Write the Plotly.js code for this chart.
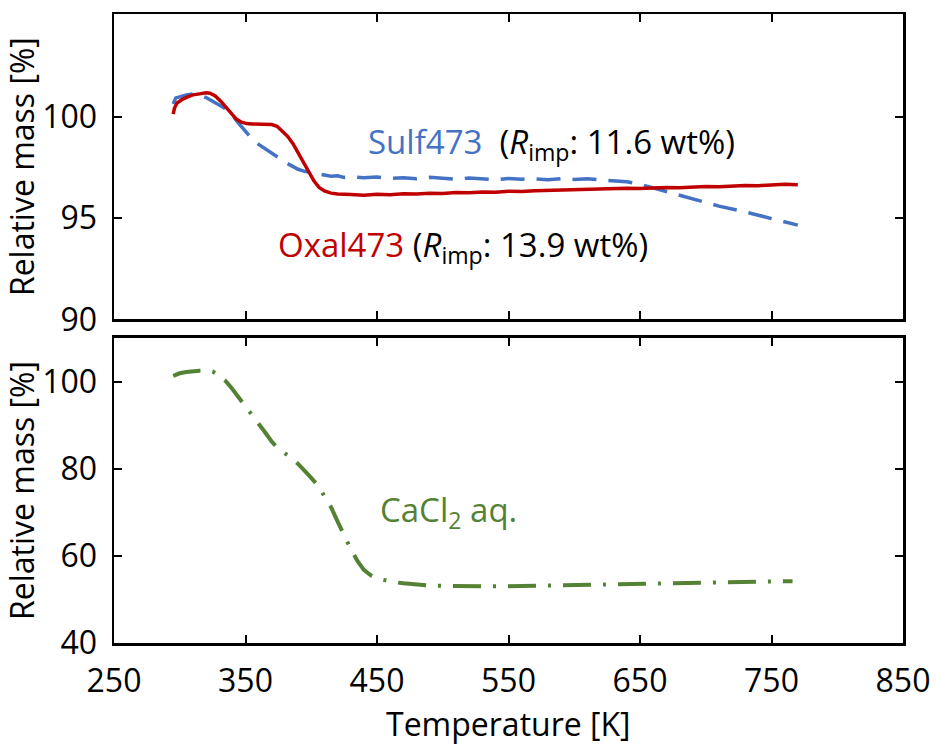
<!DOCTYPE html>
<html>
<head>
<meta charset="utf-8">
<script src="https://cdn.plot.ly/plotly-3.0.1.min.js"></script>
<style>
  html, body { margin: 0; padding: 0; background: #fff; }
  #chart { width: 936px; height: 747px; }
</style>
</head>
<body>
<div id="chart"></div>
<script>
// Thermogravimetric curves: relative mass vs temperature

// Sulf473 (upper panel, dashed blue)
const sulfT = [295, 297, 300, 305, 310, 315, 320, 325, 330, 335, 340, 345, 350, 355, 360, 365, 370, 375, 380, 385,
  390, 395, 400, 405, 410, 415, 420, 425, 430, 440, 450, 460, 470, 480, 490, 500, 510, 520, 530, 540,
  550, 560, 570, 580, 590, 600, 610, 620, 630, 640, 650, 660, 670, 680, 690, 700, 710, 720, 730, 740,
  750, 760, 770];
const sulfM = [100.65, 100.95, 101.0, 101.1, 101.15, 101.1, 100.97, 100.8, 100.6, 100.4, 100.1, 99.68, 99.3, 98.92, 98.65, 98.45, 98.22, 98.0, 97.77, 97.58,
  97.42, 97.32, 97.25, 97.2, 97.12, 97.08, 97.1, 97.02, 97.06, 97.0, 97.04, 96.97, 97.0, 96.95, 97.02, 96.97, 96.93, 96.99, 96.95, 96.9,
  96.97, 96.93, 96.95, 96.9, 96.96, 96.92, 96.95, 96.9, 96.88, 96.8, 96.68, 96.5, 96.3, 96.14, 95.95, 95.78, 95.6, 95.46, 95.32, 95.15,
  94.98, 94.82, 94.66];

// Oxal473 (upper panel, solid red)
const oxalT = [295, 296, 298, 302, 306, 310, 315, 320, 323, 327, 331, 335, 339, 343, 347, 351, 355, 360, 365, 370,
  374, 378, 382, 386, 390, 394, 398, 402, 406, 410, 415, 420, 430, 440, 450, 460, 470, 480, 490, 500,
  510, 520, 530, 540, 550, 560, 570, 580, 590, 600, 610, 620, 630, 640, 650, 660, 670, 680, 690, 700,
  710, 720, 730, 740, 750, 760, 770];
const oxalM = [100.15, 100.45, 100.7, 100.88, 101.0, 101.1, 101.15, 101.2, 101.18, 101.05, 100.8, 100.5, 100.2, 99.9, 99.75, 99.68, 99.66, 99.64, 99.65, 99.63,
  99.55, 99.3, 99.05, 98.7, 98.25, 97.8, 97.3, 96.85, 96.52, 96.35, 96.24, 96.2, 96.17, 96.14, 96.18, 96.16, 96.21, 96.2, 96.24, 96.22,
  96.27, 96.26, 96.3, 96.29, 96.33, 96.32, 96.36, 96.38, 96.4, 96.42, 96.41, 96.46, 96.45, 96.48, 96.47, 96.5, 96.52, 96.51, 96.55, 96.57,
  96.56, 96.6, 96.62, 96.61, 96.65, 96.68, 96.66];

// CaCl2 aq. (lower panel, dash-dot green)
const caclT = [295, 300, 305, 310, 315, 320, 325, 330, 335, 340, 345, 350, 355, 360, 365, 370, 375, 380, 385, 390,
  395, 400, 405, 410, 415, 420, 425, 430, 435, 440, 445, 450, 455, 460, 470, 480, 490, 500, 520, 540,
  560, 580, 600, 620, 640, 660, 680, 700, 720, 740, 766];
const caclM = [101.3, 101.9, 102.2, 102.4, 102.5, 102.5, 102.3, 101.4, 100.1, 98.3, 96.3, 94.5, 92.6, 90.4, 88.3, 86.2, 84.6, 83.5, 82.5, 81.1,
  79.6, 77.9, 76.2, 73.9, 71.2, 67.9, 64.6, 61.6, 58.9, 56.8, 55.6, 54.9, 54.5, 54.1, 53.7, 53.4, 53.2, 53.1, 53.0, 53.0,
  53.1, 53.2, 53.3, 53.4, 53.5, 53.6, 53.7, 53.8, 53.9, 54.0, 54.2];

// Axis ticks
const xTicks = [250, 350, 450, 550, 650, 750, 850];
const yTicksTop = [90, 95, 100];
const yTicksBottom = [40, 60, 80, 100];

const FONT = 'Open Sans, Noto Sans, sans-serif';
const BLUE = '#4472C4';
const RED = '#C00000';
const GREEN = '#548235';

const baseAxis = {
  showline: true, linecolor: '#000', linewidth: 2.5, mirror: 'ticks',
  ticks: 'inside', ticklen: 8, tickwidth: 2, tickcolor: '#000',
  showgrid: false, zeroline: false,
  tickfont: { family: FONT, size: 32, color: '#000' }
};

const traces = [
  { x: sulfT, y: sulfM, xaxis: 'x2', yaxis: 'y2', mode: 'lines',
    line: { color: BLUE, width: 3.5, dash: '24px,12px' }, hoverinfo: 'skip' },
  { x: oxalT, y: oxalM, xaxis: 'x2', yaxis: 'y2', mode: 'lines',
    line: { color: RED, width: 3.5 }, hoverinfo: 'skip' },
  { x: caclT, y: caclM, xaxis: 'x', yaxis: 'y', mode: 'lines',
    line: { color: GREEN, width: 4, dash: '28px,12px,3px,12px' }, hoverinfo: 'skip' }
];

const layout = {
  width: 936, height: 747,
  margin: { l: 114, r: 33, t: 14, b: 104 },
  paper_bgcolor: '#fff', plot_bgcolor: '#fff',
  showlegend: false,
  font: { family: FONT, size: 32, color: '#000' },
  xaxis: Object.assign({}, baseAxis, {
    anchor: 'y', range: [250, 850], tickvals: xTicks, ticklabelstandoff: 8
  }),
  xaxis2: Object.assign({}, baseAxis, {
    anchor: 'y2', range: [250, 850], tickvals: xTicks, showticklabels: false
  }),
  yaxis: Object.assign({}, baseAxis, {
    domain: [0, 0.4849], range: [40, 110], tickvals: yTicksBottom, ticklabelstandoff: 8,
    title: { text: 'Relative mass [%]', font: { family: FONT, size: 32, color: '#000' }, standoff: 10 }
  }),
  yaxis2: Object.assign({}, baseAxis, {
    domain: [0.5146, 1], range: [90, 105.1], tickvals: yTicksTop, ticklabelstandoff: 8,
    title: { text: 'Relative mass [%]', font: { family: FONT, size: 32, color: '#000' }, standoff: 10 }
  }),
  annotations: [
    // x-axis title, placed below the tick labels
    { xref: 'paper', yref: 'paper', x: 0.5, y: 0, xanchor: 'center', yanchor: 'top', yshift: -57,
      showarrow: false, font: { family: FONT, size: 32, color: '#000' }, text: 'Temperature [K]' },
    { xref: 'x2', yref: 'y2', x: 441.8, y: 98.7, xanchor: 'left', yanchor: 'middle', showarrow: false,
      font: { family: FONT, size: 33, color: '#000' },
      text: '<span style="color:' + BLUE + '">Sulf473</span>&nbsp; (<i>R</i><sub>imp</sub>: 11.6 wt%)' },
    { xref: 'x2', yref: 'y2', x: 373.4, y: 93.6, xanchor: 'left', yanchor: 'middle', showarrow: false,
      font: { family: FONT, size: 33, color: '#000' },
      text: '<span style="color:' + RED + '">Oxal473</span> (<i>R</i><sub>imp</sub>: 13.9 wt%)' },
    { xref: 'x', yref: 'y', x: 450.4, y: 70.1, xanchor: 'left', yanchor: 'middle', showarrow: false,
      font: { family: FONT, size: 33, color: GREEN },
      text: 'CaCl<sub>2</sub> aq.' }
  ]
};

Plotly.newPlot('chart', traces, layout, { staticPlot: true, displayModeBar: false });
</script>
</body>
</html>
